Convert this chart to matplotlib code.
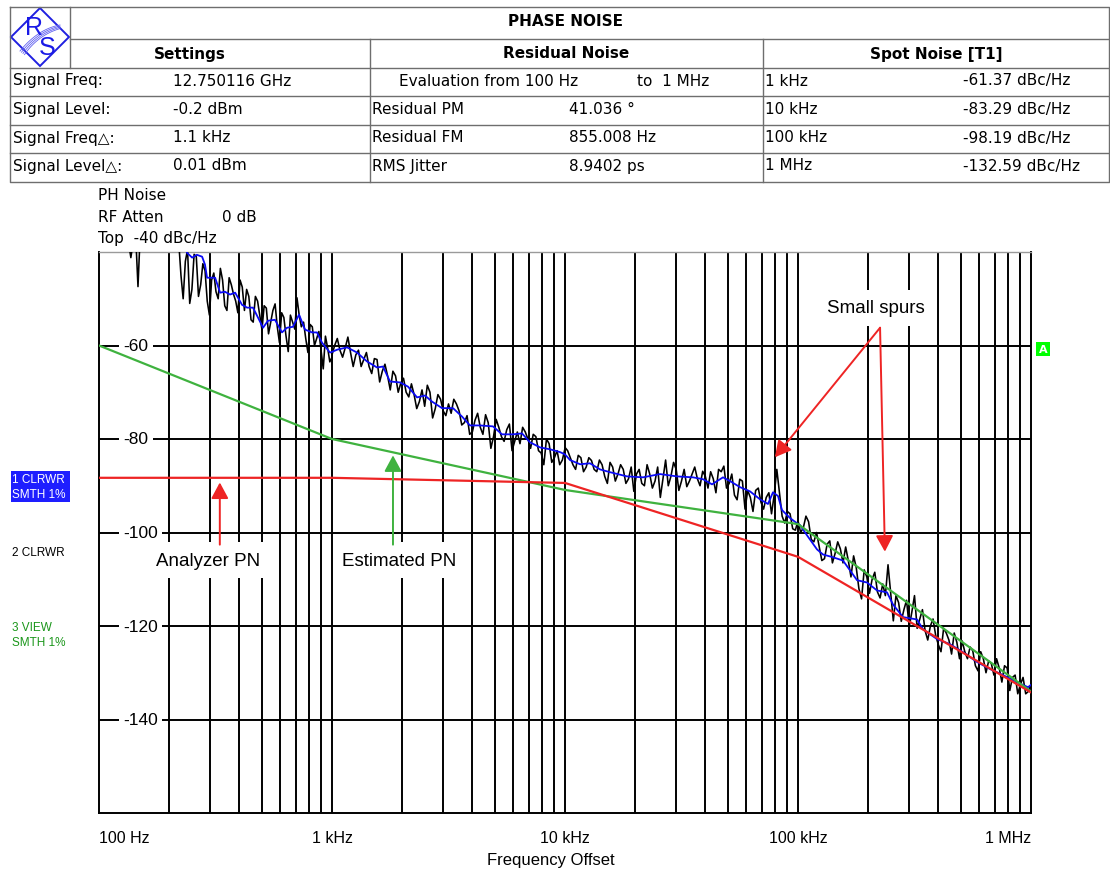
import numpy as np
import matplotlib.pyplot as plt
from matplotlib.patches import Polygon, Rectangle
from matplotlib.transforms import blended_transform_factory

W, H = 1110, 870

# ---- header table contents ----
settings_names = ["Signal Freq:", "Signal Level:", "Signal Freq\u25b3:", "Signal Level\u25b3:"]
settings_values = ["12.750116 GHz", "-0.2 dBm", "1.1 kHz", "0.01 dBm"]
residual_names = ["Residual PM", "Residual FM", "RMS Jitter"]
residual_values = ["41.036 \u00b0", "855.008 Hz", "8.9402 ps"]

# spot noise marker T1 (also part of trace 1)
spot_freq_hz = [1e3, 1e4, 1e5, 1e6]
spot_names = ["1 kHz", "10 kHz", "100 kHz", "1 MHz"]
spot_dbc = [-61.37, -83.29, -98.19, -132.59]

# ---- trace 1: CLRWR, SMTH 1% ----
smooth_freq_hz = [232, 239, 251, 263, 277, 285, 291, 315, 331, 347,
                  365, 384, 411, 432, 458, 481, 506, 531, 569, 610,
                  641, 680, 722, 766, 821, 862, 906, 980, 1051, 1160,
                  1280, 1413, 1560, 1655, 1774, 1958, 2120, 2317, 2507, 2687,
                  2966, 3306, 3614, 3911, 4317, 4909, 5365, 5982, 6539, 7075,
                  7812, 8622, 9518, 10510, 11600, 12800, 14130, 15600, 18460,
                  21620, 25570, 30250, 35430, 39110, 42750, 47660, 51070, 56380, 62230,
                  68700, 74340, 78100, 82080, 85380, 92400, 102000, 109300, 120600, 128000,
                  141300, 156000, 179200, 197800, 218400, 241000, 255700, 282300, 324100, 344000,
                  395100, 449200, 510800, 586500, 666800, 758300, 870900, 970700]
smooth_dbc = [-38.5, -40.2, -41.2, -40.6, -41.0, -42.7, -45.5, -45.5, -48.7, -48.5,
              -49.1, -48.7, -51.3, -51.9, -51.9, -54.0, -56.2, -54.7, -54.5, -57.2,
              -56.2, -56.0, -53.4, -56.6, -57.2, -57.2, -59.4, -61.5, -60.9, -60.4,
              -61.5, -63.4, -64.7, -64.5, -67.7, -67.9, -68.8, -71.1, -70.7, -72.0,
              -73.4, -73.4, -75.2, -77.1, -77.1, -77.3, -79.0, -79.0, -78.8, -80.7,
              -81.8, -82.2, -82.8, -84.5, -85.4, -85.2, -86.5, -87.1, -88.0,
              -88.2, -87.5, -88.0, -88.2, -88.6, -89.7, -88.2, -89.0, -90.3, -91.2,
              -92.9, -93.9, -91.4, -92.2, -95.2, -96.9, -98.4, -100.6, -103.6, -104.7,
              -105.3, -106.0, -110.2, -110.7, -112.4, -112.8, -115.4, -118.1, -118.6, -120.7,
              -122.8, -123.9, -125.6, -127.7, -129.2, -130.5, -132.0, -133.1]

# ---- trace 2: CLRWR raw sweep ----
raw_start_freq_hz = [100, 125, 133, 137, 141, 144, 147, 150, 180, 210]
raw_start_dbc = [-34.0, -36.0, -37.0, -41.2, -37.0, -37.5, -47.4, -37.0, -35.0, -36.0]
# 220 Hz .. 1 kHz: sweep points and the points in between
raw_dec1_dbc = [-38.0, -50.0, -39.5, -48.0, -41.0, -47.0, -44.0, -53.5, -44.5, -50.0,
                -46.0, -52.5, -47.0, -50.5, -46.0, -52.5, -49.5, -55.0, -50.5, -56.6,
                -52.0, -55.0, -51.1, -59.4, -54.0, -61.3, -55.0, -49.8, -56.0, -58.5,
                -55.5, -60.0, -57.0, -65.0, -60.5, -62.5]
raw_dec1_mid_dbc = [-45.0, -42.0, -51.0, -40.5, -49.5, -42.5, -50.5, -46.0, -48.5, -43.5,
                    -51.5, -45.5, -49.0, -53.0, -47.5, -48.0, -54.5, -49.5, -53.5, -51.5,
                    -57.5, -52.5, -56.0, -53.0, -58.0, -53.5, -56.5, -53.5, -55.0, -61.5,
                    -56.0, -58.5, -61.0, -58.0, -63.5]
# 1 kHz .. 10 kHz
raw_dec2_dbc = [-62.0, -58.5, -62.5, -58.2, -64.5, -61.0, -63.0, -64.5, -62.8, -67.8,
                -64.0, -69.5, -66.5, -68.0, -70.0, -68.2, -73.5, -69.5, -68.5, -75.5,
                -70.5, -74.0, -72.5, -71.5, -74.0, -76.5, -79.0, -76.0, -77.5, -74.8,
                -82.0, -75.8, -79.5, -78.0, -82.5, -78.5, -77.5, -80.0, -79.0, -82.5,
                -85.5, -81.0, -84.0, -85.5, -82.0]
raw_dec2_mid_dbc = [-60.0, -61.0, -60.5, -61.5, -62.0, -64.5, -61.5, -66.0, -63.0, -65.5,
                    -66.5, -65.5, -70.0, -67.0, -71.0, -70.5, -72.0, -73.0, -70.0, -73.5,
                    -71.5, -75.0, -74.5, -72.5, -77.0, -75.0, -78.5, -74.5, -79.0, -76.5,
                    -79.5, -77.5, -80.5, -76.8, -80.5, -81.0, -78.5, -82.0, -79.5, -83.0,
                    -80.0, -85.0, -82.5, -84.5]
# 10 kHz .. 100 kHz
raw_dec3_dbc = [-81.8, -84.0, -86.5, -84.0, -86.0, -84.6, -87.0, -85.5, -89.5, -86.0,
                -87.5, -86.5, -88.5, -91.2, -86.5, -90.0, -87.5, -89.0, -92.5, -84.5,
                -88.0, -86.5, -89.0, -90.2, -87.5, -88.5, -86.9, -90.5, -88.5, -86.5,
                -85.8, -89.5, -92.0, -88.6, -95.0, -92.5, -91.0, -93.5, -92.5, -96.0,
                -86.5, -96.5, -95.5, -99.2, -97.5]
raw_dec3_mid_dbc = [-82.5, -85.5, -83.5, -87.0, -84.0, -86.5, -84.5, -88.0, -85.0, -89.0,
                    -85.5, -89.5, -86.0, -87.5, -89.5, -85.5, -90.5, -86.0, -88.5, -90.0,
                    -85.0, -91.0, -86.5, -89.0, -86.0, -90.0, -88.0, -87.0, -91.5, -87.0,
                    -90.5, -87.5, -93.0, -89.0, -91.0, -95.5, -90.5, -95.0, -91.5, -92.0,
                    -91.5, -98.0, -96.0, -99.5]
# 100 kHz .. 1 MHz
raw_dec4_dbc = [-97.5, -99.0, -97.7, -102.0, -103.0, -105.6, -101.8, -104.5, -103.5, -103.1,
                -109.5, -107.5, -114.2, -109.5, -110.0, -112.7, -111.0, -106.9, -118.9, -115.0,
                -116.5, -120.2, -113.5, -118.5, -121.0, -120.0, -122.0, -125.5, -121.5, -126.0,
                -123.5, -123.2, -127.0, -125.3, -129.6, -127.0, -127.5, -130.5, -129.0, -128.5,
                -133.8, -130.5, -132.5, -134.5, -132.5]
raw_dec4_mid_dbc = [-100.0, -96.5, -101.5, -100.0, -106.0, -102.5, -106.5, -102.0, -106.5, -106.0,
                    -105.0, -112.0, -108.0, -113.0, -108.5, -114.0, -113.5, -113.0, -113.5, -119.0,
                    -114.5, -117.0, -120.5, -116.5, -123.0, -118.5, -124.0, -120.5, -123.0, -121.5,
                    -127.0, -125.5, -124.5, -128.5, -125.5, -130.0, -128.0, -127.0, -132.0, -129.0,
                    -131.0, -134.5, -131.0, -134.0]

# ---- trace 3: VIEW lines ----
est_freq_hz = [100, 1e3, 1e4, 1e5, 1e6]
est_dbc = [-60.0, -80.0, -90.9, -98.2, -134.0]
ana_freq_hz = [100, 1e3, 1e4, 1e5, 1e6]
ana_dbc = [-88.3, -88.3, -89.4, -105.2, -134.2]

xtick_freq_hz = [100, 1e3, 1e4, 1e5, 1e6]
xtick_labels = ["100 Hz", "1 kHz", "10 kHz", "100 kHz", "1 MHz"]
ytick_dbc = [-60, -80, -100, -120, -140]

RED = "#ee2424"
GREEN = "#3fb23f"
BLUE = "#0a0af5"
ARIAL = ["Liberation Sans", "DejaVu Sans"]


def decade(f0, f1, pts, mids):
    # sweep points interleaved with the readings between them
    vals = np.empty(2 * len(pts) - 1)
    vals[0::2] = pts
    vals[1::2] = mids
    return np.geomspace(f0, f1, len(vals)), vals


segs = [decade(220, 1e3, raw_dec1_dbc, raw_dec1_mid_dbc),
        decade(1e3, 1e4, raw_dec2_dbc, raw_dec2_mid_dbc),
        decade(1e4, 1e5, raw_dec3_dbc, raw_dec3_mid_dbc),
        decade(1e5, 1e6, raw_dec4_dbc, raw_dec4_mid_dbc)]
raw_freq = np.concatenate([raw_start_freq_hz] + [s[0] for s in segs])
raw_dbc = np.concatenate([raw_start_dbc] + [s[1] for s in segs])

sm_f = np.array(smooth_freq_hz + spot_freq_hz, dtype=float)
sm_d = np.array(smooth_dbc + spot_dbc, dtype=float)
order = np.argsort(sm_f)
sm_f, sm_d = sm_f[order], sm_d[order]

fig = plt.figure(figsize=(W / 100, H / 100), dpi=100)

# pixel-space layer for the table and side labels
bg = fig.add_axes([0, 0, 1, 1], zorder=0)
bg.set_xlim(0, W)
bg.set_ylim(H, 0)
bg.axis("off")

line_kw = dict(color="#6e6e6e", lw=1.0)
bg.plot([10, 1109, 1109, 10, 10], [8, 8, 183, 183, 8], **line_kw)
bg.plot([70, 70], [8, 69], **line_kw)
bg.plot([70, 1109], [40, 40], **line_kw)
for yy in [69, 97, 126, 154]:
    bg.plot([10, 1109], [yy, yy], **line_kw)
for xx in [370, 763]:
    bg.plot([xx, xx], [40, 183], **line_kw)

# R&S diamond logo
bg.add_patch(Polygon([(40, 9), (69, 38), (40, 67), (11, 38)], closed=True,
                     fill=False, ec="#2020e0", lw=1.4))
t = np.linspace(0, 1, 30)
for k in range(4):
    x0, y0 = 20 + k * 1.5, 52 + k * 1.2
    x1, y1 = 60, 26 + k * 1.2
    xc, yc = 38, 30 + k * 2.0
    bx = (1 - t) ** 2 * x0 + 2 * (1 - t) * t * xc + t ** 2 * x1
    by = (1 - t) ** 2 * y0 + 2 * (1 - t) * t * yc + t ** 2 * y1
    bg.plot(bx, by, color="#6060f0", lw=0.6)
bg.text(34, 28, "R", color="#1a1ae6", fontsize=18, ha="center", va="center", family=ARIAL)
bg.text(47, 48, "S", color="#1a1ae6", fontsize=18, ha="center", va="center", family=ARIAL)

hdr = dict(fontsize=11, fontweight="bold", ha="center", va="center", family="DejaVu Sans")
bg.text(566, 21, "PHASE NOISE", **hdr)
bg.text(190, 54, "Settings", **hdr)
bg.text(566, 54, "Residual Noise", **hdr)
bg.text(936, 54, "Spot Noise [T1]", **hdr)

cell = dict(fontsize=11, ha="left", va="center", family="DejaVu Sans")
row_y = [81, 109.5, 138, 166]
for i, yy in enumerate(row_y):
    bg.text(13, yy, settings_names[i], **cell)
    bg.text(173, yy, settings_values[i], **cell)
    bg.text(765, yy, spot_names[i], **cell)
    bg.text(963, yy, f"{spot_dbc[i]:.2f} dBc/Hz", **cell)
bg.text(399, row_y[0], "Evaluation from 100 Hz", **cell)
bg.text(637, row_y[0], "to  1 MHz", **cell)
for i, yy in enumerate(row_y[1:]):
    bg.text(372, yy, residual_names[i], **cell)
    bg.text(569, yy, residual_values[i], **cell)

bg.text(98, 195, "PH Noise", **cell)
bg.text(98, 217, "RF Atten", **cell)
bg.text(222, 217, "0 dB", **cell)
bg.text(98, 239, "Top  -40 dBc/Hz", **cell)

# trace labels on the left
bg.add_patch(Rectangle((11, 472), 59, 31, fc="#1e1eff", ec="none"))
side = dict(fontsize=8.5, ha="left", va="center", family=ARIAL)
bg.text(12, 480, "1 CLRWR", color="white", **side)
bg.text(12, 495, "SMTH 1%", color="white", **side)
bg.text(12, 553, "2 CLRWR", color="black", **side)
bg.text(12, 628, "3 VIEW", color="#1a961a", **side)
bg.text(12, 643, "SMTH 1%", color="#1a961a", **side)

# limit line marker
bg.add_patch(Rectangle((1036, 343), 14, 14, fc="#00ff00", ec="none"))
bg.text(1043, 350.5, "A", color="white", fontsize=8, fontweight="bold",
        ha="center", va="center", family="DejaVu Sans")

# ---- diagram ----
ax = fig.add_axes([99 / W, 1 - 814 / H, 932 / W, 561 / H], zorder=1)
ax.set_xscale("log")
ax.set_xlim(100, 1e6)
ax.set_ylim(-160, -40)
ax.tick_params(which="both", length=0, labelbottom=False, labelleft=False)
for side_name in ["left", "bottom", "right"]:
    ax.spines[side_name].set_color("black")
    ax.spines[side_name].set_linewidth(1.4)
ax.spines["top"].set_color("#9a9a9a")
ax.spines["top"].set_linewidth(1.0)

grid_freqs = [m * 10 ** e for e in range(2, 6) for m in range(1, 10)][1:]
for f in grid_freqs:
    ax.axvline(f, color="black", lw=1.4, zorder=1)
for v in ytick_dbc:
    ax.axhline(v, color="black", lw=1.4, zorder=1)

yl_tr = blended_transform_factory(ax.transAxes, ax.transData)
for v in ytick_dbc:
    ax.text(0.026, v, str(v), transform=yl_tr, ha="left", va="center", fontsize=12.5,
            family=ARIAL, zorder=2,
            bbox=dict(boxstyle="square,pad=0.25", fc="white", ec="none"))

xl_tr = blended_transform_factory(ax.transData, ax.transAxes)
for f, lab, ha in zip(xtick_freq_hz, xtick_labels, ["left", "center", "center", "center", "right"]):
    ax.text(f, -0.043, lab, transform=xl_tr, ha=ha, va="center", fontsize=11.5,
            family=ARIAL, clip_on=False)
bg.text(551, 861, "Frequency Offset", fontsize=12, ha="center", va="center", family=ARIAL)

ax.plot(raw_freq, raw_dbc, color="black", lw=1.15, zorder=3)
ax.plot(sm_f, sm_d, color=BLUE, lw=1.3, zorder=4)
ax.plot(est_freq_hz, est_dbc, color=GREEN, lw=1.6, zorder=5)
ax.plot(ana_freq_hz, ana_dbc, color=RED, lw=1.6, zorder=5)

lab_kw = dict(fontsize=13.5, ha="center", va="center", family=ARIAL, zorder=6,
              bbox=dict(boxstyle="square,pad=0.5", fc="white", ec="none"))
ax.text(294, -105.9, "Analyzer PN", **lab_kw)
ax.text(1940, -105.9, "Estimated PN", **lab_kw)
ax.text(216e3, -51.9, "Small spurs", **lab_kw)


def arrow(tip, tail, color):
    ax.annotate("", xy=tip, xytext=tail, zorder=7,
                arrowprops=dict(arrowstyle="-|>,head_length=0.65,head_width=0.35",
                                mutation_scale=15, color=color, lw=1.4,
                                shrinkA=0, shrinkB=0))


arrow((330, -89.3), (330, -102.6), RED)
arrow((1827, -83.5), (1827, -102.6), GREEN)
arrow((79.6e3, -83.9), (225e3, -56.2), RED)
arrow((236e3, -104.1), (225e3, -56.2), RED)

fig.savefig("out.png", dpi=100)
